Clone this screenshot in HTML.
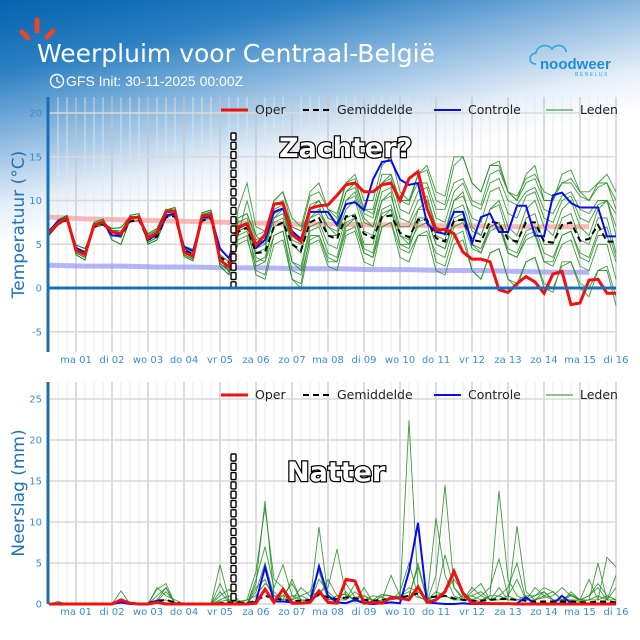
<!DOCTYPE html>
<html><head><meta charset="utf-8">
<style>
html,body{margin:0;padding:0;background:#fff;}
#wrap{position:relative;width:640px;height:640px;overflow:hidden;font-family:"DejaVu Sans","Liberation Sans",sans-serif;}
#bg{position:absolute;left:0;top:0;width:640px;height:260px;background:linear-gradient(168deg,#0563ad 0%,#2a7fc2 18%,#8fbbe0 36%,#e4eef8 52%,#ffffff 62%);}
svg{position:absolute;left:0;top:0;}
</style></head>
<body>
<div id="wrap">
<div id="bg"></div>
<svg id="chart" width="640" height="640" viewBox="0 0 640 640">
  <g>
    <line x1="22" y1="32" x2="28" y2="38" stroke="#e8452c" stroke-width="5" stroke-linecap="round"/>
    <line x1="37" y1="20" x2="37" y2="31" stroke="#e8452c" stroke-width="5" stroke-linecap="round"/>
    <line x1="53" y1="31" x2="47" y2="37" stroke="#e8452c" stroke-width="5" stroke-linecap="round"/>
  </g>
  <text x="37" y="62" fill="#fff" font-size="25" font-family="DejaVu Sans, Liberation Sans, sans-serif">Weerpluim voor  Centraal-België</text>
  <g>
    <circle cx="57" cy="81" r="6.5" fill="none" stroke="#fff" stroke-width="1.4"/>
    <polyline points="57,77 57,81 60,83" fill="none" stroke="#fff" stroke-width="1.3"/>
  </g>
  <text x="66" y="86" fill="#fff" font-size="14" font-family="Liberation Sans, sans-serif">GFS Init: 30-11-2025 00:00Z</text>
  <g>
    <path d="M536,64 C528,64 528,54 536,53 C537,45 548,43 552,49 C556,43 566,45 566,52" fill="none" stroke="#29a9e0" stroke-width="1.6"/>
    <text x="540" y="69" fill="#1e8fd6" font-size="15" font-family="Liberation Sans, sans-serif" font-weight="bold">noodweer</text>
    <text x="575" y="76" fill="#29a9e0" font-size="5" letter-spacing="1.5" font-family="Liberation Sans, sans-serif">BENELUX</text>
  </g>
  <g id="gTop"></g>
  <g id="gBot"></g>
</svg>
</div>
<script>
// ---------------- DATA ----------------
const dayLabels = ['ma 01','di 02','wo 03','do 04','vr 05','za 06','zo 07','ma 08','di 09','wo 10','do 11','vr 12','za 13','zo 14','ma 15','di 16'];
const tempTicks = [-5,0,5,10,15,20];
const precTicks = [0,5,10,15,20,25];
const startHour = 6; const stepHours = 6;
const tempOper = [6.3,7.4,8.0,4.3,3.8,7.2,7.5,6.4,6.2,8.0,8.1,5.7,6.3,8.7,8.8,4.1,3.6,8.2,8.4,3.2,2.4,
 7.0,7.3,4.9,6.1,9.6,9.7,6.1,5.3,9.1,9.4,9.5,10.6,11.8,12.0,11.0,11.0,11.8,12.0,10.0,12.5,13.3,9.1,
 6.6,6.7,6.2,4.1,3.3,3.3,3.0,-0.2,-0.5,0.5,1.3,0.7,-0.6,1.6,1.9,-1.9,-1.7,0.9,1.0,-0.6,-0.6];
const tempControl = [6.5,7.6,8.0,4.6,4.0,7.2,7.5,6.0,6.0,7.9,8.1,5.5,6.1,8.3,8.5,4.7,4.2,8.0,8.2,4.5,3.4,
 6.8,7.3,4.6,5.5,8.7,9.1,6.5,5.6,8.7,8.7,8.7,7.2,9.6,9.8,8.9,12.4,14.4,14.6,12.4,11.8,12.0,7.4,
 6.4,6.2,8.7,8.7,5.1,8.1,8.5,6.4,6.4,9.4,9.4,6.0,5.9,10.6,10.9,9.7,9.2,9.2,9.2,5.9,5.9];
const tempMean = [6.2,7.3,7.8,4.3,3.9,7.0,7.3,6.2,6.0,7.6,7.8,5.5,5.9,8.1,8.2,4.3,3.9,7.7,7.9,3.5,2.9,
 6.4,6.9,4.0,4.1,7.0,7.5,5.0,4.3,7.5,8.0,6.0,5.6,8.2,8.2,6.2,5.7,8.1,8.3,6.3,5.8,7.8,7.8,
 5.7,5.3,7.7,7.8,5.5,5.3,7.6,7.4,5.6,5.3,7.5,7.5,5.3,5.2,7.2,7.5,5.4,5.6,7.2,5.3,5.3];
const tempClimHigh = [8.1,7.9,7.8,7.7,7.6,7.5,7.4,7.3,7.3,7.2,7.2,7.1,7.1,7.0,7.0,7.0];
const tempClimLow = [2.6,2.5,2.5,2.4,2.4,2.3,2.3,2.2,2.2,2.1,2.1,2.0,2.0,1.9,1.8,1.8];
const earlyA = [6.5,7.8,8.3,4.0,3.5,7.5,7.9,6.0,5.8,8.3,8.5,5.2,5.8,8.9,9.2,4.5,3.9,8.6,8.9,3.8,3.0];
const earlyB = [6.0,7.2,7.8,4.6,4.2,6.9,7.2,6.6,6.5,7.6,7.7,6.0,6.6,8.3,8.4,3.8,3.3,7.8,8.0,2.8,2.0];
const earlyC = [6.2,7.6,8.2,3.8,3.2,7.3,7.7,5.5,5.0,7.8,8.3,5.0,5.5,8.0,8.5,4.8,4.4,8.0,8.2,3.5,1.8];
const earlyD = [6.4,7.3,7.9,4.9,4.5,7.0,7.4,6.8,6.9,8.2,8.0,6.2,6.8,9.0,8.9,3.6,3.1,8.4,8.7,2.5,1.5];
const tempM1 = [...earlyA,8,8.5,5.5,6,10,11,7,6.5,10.5,11,9,8.5,12,12.5,9,9,13,13,10,10,12,12,9,9,12,12.5,10,9.5,13,13.5,11,10,12,12.5,10,10,13,13.5,11,11,12,12,9];
const tempM2 = [...earlyB,6,6.5,3,3.5,7,7.5,3,2.5,7,7.5,5,4.5,8,8.5,5,5,9,9.5,6,5.5,8,8,5,4.5,8,8.5,5,4,7,7.5,4,3.5,6,6.5,3,3,6,6.5,3.5,3,6,6,3];
const tempM3 = [...earlyC,7,7.5,2,1.5,6,6.5,1,0.5,6,6,3,3,7,8,4,3.5,8,9,5,5,7,7.5,3,2.5,6,6.5,2,1,4,4.5,1,0,3,3.5,0,-0.5,3,3,0,-1,2,2,-2];
const tempM4 = [...earlyD,9,12,7,6.5,10,11,8,7,11,12,9,8,12,13,10,10,14,15,11,10,13,13.5,10,9.5,14,15,12,11,14,14.5,11,10,13,14,10,10,12,12.5,11,10,12,13,11];
const tempM5 = [...earlyA,6.5,7,4,4.5,8,8.5,5,4,9,9.5,6,6,9,10,6.5,6,10,10.5,7,7,9,9,6,5.5,9,9.5,6.5,6,9,9.5,6,5,8,8.5,5,5,8,8.5,5.5,5,8,8,4];
const tempM6 = [...earlyB,5,5.5,2.5,3,6,6.5,2,1.5,5.5,6,3.5,3,6.5,7,4,3.5,7,7.5,4.5,4,6,6.5,4,3.5,7,7.5,4.5,4,6.5,7,4,3.5,5.5,6,3,2.5,5,5.5,2.5,2,5,5,1];
const tempM7 = [...earlyC,7.5,8,5,5.5,9,9.5,6,5.5,8,8.5,7,6.5,10,10.5,7.5,7,11,11.5,8,7.5,10,10.5,7,6.5,10,10.5,8,7.5,11,11.5,8.5,8,10.5,11,8,7.5,10,10.5,8,7.5,9.5,10,7];
const tempM8 = [...earlyD,6,10,6,5,8,9,5,4,8,9,7,6,10,11,8,7,10,11,6,5,9,10,7,6,10,11,7,6,9,10,7,6,9,10,7,6,9,10,7,6,9,10,6];
const tempM9 = [...earlyA,7,7.5,3.5,3,7.5,8,3,2,6.5,7,4,3.5,7.5,8,4.5,4,8.5,9,5,4.5,7.5,8,5,4.5,7.5,8,5,4.5,7,7.5,4.5,4,6.5,7,4,3.5,6,6.5,4,3.5,6.5,7,3.5];
const tempM10 = [...earlyB,8,8.5,6,6.5,9.5,10,7,6.5,9,10,8,7.5,11,11.5,8.5,8,12,12.5,9,8.5,11,11.5,8,7.5,11,12,9.5,9,12,12.5,10,9.5,11,11.5,9,8.5,10.5,11,9,8.5,10,10,8.5];
const tempM11 = [...earlyC,6.5,7,4.5,5,8.5,9,5.5,5,9.5,10,8,7.5,11,12,9,8.5,12,13,10,9.5,13,14,11,10.5,15,15,12,11,14,14,11,10.5,12.5,13,11,10.5,12,12,10.5,10,11.5,12,10];
const tempM12 = [...earlyD,5.5,6,1.5,1,5,5.5,1,0,5,5.5,2.5,2,6,6.5,3,2.5,7,7.5,3.5,3,6,6,2,1.5,5,5.5,2,1,4,4.5,1,0.5,3,3.5,0.5,0,2.5,3,0.5,0,2,2.5,-1];
const tempMembers = [tempM1,tempM2,tempM3,tempM4,tempM5,tempM6,tempM7,tempM8,tempM9,tempM10,tempM11,tempM12];

const precOper = [0,0,0,0,0,0,0,0,0.5,0.1,0,0,0.2,0,0,0,0,0,0,0,0,0,0,0.1,1.8,0.2,1.8,0.1,0.1,0.2,1.6,0.2,0.1,3.0,2.8,0.1,0.2,0.1,0.8,0.7,0.5,2.1,0.2,0.5,1.5,4.0,1.3,0.1,0.1,0.05,0.05,0.05,0,0,0,0,0,0,0,0,0,0,0,0];
const precControl = [0,0.1,0,0,0,0,0,0,0.2,0,0,0,0.4,0,0,0,0,0,0,0,0,0,0,0.3,4.5,0.3,0.3,0.2,0.1,0.2,4.6,1.0,0.2,0.1,0.5,0.1,0,0.1,0.2,0.1,4.0,9.9,0.2,0.1,0,0,0.1,0,0,0,0,0,0.1,0.8,0,0,0,1.0,0.1,0,0,0,0,0];
const precMean = [0,0.1,0,0,0,0,0,0,0.3,0.1,0,0.1,0.4,0.5,0.2,0,0,0,0,0.1,0.2,0.2,0.1,0.4,1.0,0.7,0.5,0.4,0.4,0.5,1.2,0.8,0.6,0.8,0.7,0.5,0.4,0.5,0.6,0.8,1.0,1.3,0.8,0.9,1.0,0.7,0.5,0.4,0.4,0.5,0.6,0.6,0.5,0.4,0.3,0.3,0.3,0.3,0.3,0.2,0.2,0.3,0.3,0.2];
const precM1 = [0,0.3,0,0,0,0,0,0,1.6,0,0,0,1.8,2.5,0,0,0,0,0,4.8,0.5,0.2,0,2.5,12.6,1.0,0.5,3.0,0.5,0.3,9.4,1.0,0.5,1.5,0.2,2.0,0.2,0.5,3.5,1.0,0.8,5.0,0.5,1.0,1.5,3.0,1.5,0.5,0.3,1.0,13.8,3.0,1.0,0.5,1.0,2.0,1.5,0.5,1.0,0.5,0.5,5.0,0.5,2.0];
const precM2 = [0,0,0,0,0,0,0,0,0.5,0,0,0,2.0,1.0,0.5,0,0,0,0,2.5,0.3,0,0.5,4.0,11.8,3.0,2.0,0.5,1.0,0.5,1.5,2.0,6.7,1.0,0.5,0.3,0.2,1.0,1.0,0.8,22.4,2.0,0.5,10.5,3.5,1.0,0.5,1.5,2.5,0.5,2.0,0.5,9.5,1.5,0.5,1.0,1.5,0.5,1.2,0.5,3.0,0.5,5.7,4.5];
const precM3 = [0,0,0,0,0,0,0,0,0.3,0,0,0,1.0,2.0,0,0,0,0,0,1.0,1.8,0.5,0,3.0,7.0,2.0,4.8,1.0,0.5,0.3,3.0,1.5,0.5,0.5,2.5,0.5,0,0.5,0.5,1.5,5.0,1.0,0.3,3.5,14.5,2.0,0.5,0.5,1.0,2.0,5.5,1.0,3.0,0.5,0.5,0.8,1.0,2.0,1.0,0.5,1.0,2.5,1.0,0.5];
const precM4 = [0,0,0,0,0,0,0,0,0.2,0,0,0,0.5,0.5,0,0,0,0,0,0.3,0.5,0.3,0,1.5,5.0,1.0,1.0,2.5,0.5,0.5,1.0,3.0,1.0,1.2,0.5,1.0,0.3,0.3,0.8,1.0,2.0,1.5,0.5,1.0,6.0,2.0,0.8,1.0,0.5,1.0,1.0,2.0,5.0,0.5,0.5,1.5,0.5,0.5,0.5,0.3,0.5,1.0,0.5,0.5];
const precM5 = [0,0,0,0,0,0,0,0,0.1,0,0,0,0.3,1.5,0.2,0,0,0,0,1.5,0.2,0,0,2.0,3.0,0.5,1.0,0.5,2.0,1.0,1.5,0.5,0.5,2.5,0.8,1.0,0.5,1.2,1.0,0.5,1.0,4.5,0.5,0.5,1.0,0.5,0.5,2.0,1.0,0.5,1.0,0.5,0.5,0.5,2.0,1.0,0.5,0.3,1.5,0.5,0.5,0.5,1.0,0.5];
const precM6 = [0,0,0,0,0,0,0,0,0.3,0,0,0,0.5,2.0,0,0,0,0,0,0.5,1.0,0.3,0.5,1.0,2.5,1.5,0.5,1.0,1.0,1.5,4.0,0.5,1.0,0.5,1.5,0.5,1.0,0.8,0.5,1.0,1.5,0.8,0.5,1.5,1.0,0.5,1.0,1.0,1.5,0.5,0.5,1.0,0.5,1.0,1.0,1.5,0.5,0.5,0.5,0.5,1.0,2.0,0.5,3.5];
const precMembers = [precM1,precM2,precM3,precM4,precM5,precM6];

// ---------------- SCALES ----------------
const NS='http://www.w3.org/2000/svg';
const X0=40, PXH=1.5, PL=48, PR=616;
function xH(h){return X0+PXH*h;}
function xI(i){return xH(startHour+stepHours*i);}
const T={top:97,bottom:352,zero:288,k:8.75};
const P={top:382,bottom:604,zero:604,k:8.2};
function yT(v){return T.zero-T.k*v;}
function yP(v){return P.zero-P.k*v;}
function mk(tag,attrs,parent){const e=document.createElementNS(NS,tag);for(const k in attrs)e.setAttribute(k,attrs[k]);parent.appendChild(e);return e;}
function pathFrom(arr,yf){return arr.map((v,i)=>(i?'L':'M')+xI(i).toFixed(1)+','+yf(v).toFixed(1)).join(' ');}

function drawPanel(g,S,yf,ticks,title,members,mean,control,oper,clims,marker,bigText,bigX,bigY){
  // minor vertical grid
  for(let h=6;h<=384;h+=6){
    const l=mk('line',{x1:xH(h),x2:xH(h),y1:S.top,y2:S.bottom,stroke:(h%24===0)?'#c4c4c4':'#e6e6e6','stroke-width':(h%24===0)?1.2:0.8},g);
    
    
  }
  ticks.forEach(t=>{
    const y=yf(t);
    const l=mk('line',{x1:PL,x2:PR,y1:y,y2:y,stroke:'#d9d9d9','stroke-width':1.5},g);
    
    
    const tx=mk('text',{x:PL-6,y:y+3.5,'text-anchor':'end','font-size':10,fill:'#3d8bcd'},g);
    tx.textContent=t;
    
    
  });
  dayLabels.forEach((d,i)=>{
    const tx=mk('text',{x:xH(24*(i+1)),y:S.bottom+11,'text-anchor':'middle','font-size':10,fill:'#3d8bcd'},g);
    tx.textContent=d;
    
    
  });
  const yt=mk('text',{x:0,y:0,transform:`translate(24,${(S.top+S.bottom)/2}) rotate(-90)`,'text-anchor':'middle','font-size':17,fill:'#1f72b8'},g);
  yt.textContent=title;
  
  
  if(clims){
    clims.forEach((c,ci)=>{
      const pts=c.map((v,i)=>(i?'L':'M')+xH(24*i+6).toFixed(1)+','+yf(v).toFixed(1)).join(' ');
      const p=mk('path',{d:pts,fill:'none',stroke:ci?'#9b9bf5':'#f5a0a0','stroke-width':5,opacity:0.75},g);
      
      
    });
  }
  members.forEach(m=>{
    const p=mk('path',{d:pathFrom(m,yf),fill:'none',stroke:'#1f8a1f','stroke-width':0.9,opacity:0.85},g);
    
    
  });
  const pm=mk('path',{d:pathFrom(mean,yf),fill:'none',stroke:'#000','stroke-width':2,'stroke-dasharray':'6,4'},g);
  
  
  const pc=mk('path',{d:pathFrom(control,yf),fill:'none',stroke:'#0a0af0','stroke-width':2},g);
  
  
  const po=mk('path',{d:pathFrom(oper,yf),fill:'none',stroke:'#f01010','stroke-width':3},g);
  
  
  // left spine
  const sp=mk('line',{x1:PL,x2:PL,y1:S.top,y2:S.bottom,stroke:'#1a6fb5','stroke-width':3},g);
  
  
  // marker column
  const mg=mk('g',{},g);
  
  
  for(let y=marker[0];y<marker[1];y+=9.3){
    mk('rect',{x:231,y:y,width:5,height:7,fill:'#fff',stroke:'#000','stroke-width':1.4,rx:1},mg);
  }
  const bt=mk('text',{x:bigX,y:bigY,'font-size':27,'font-weight':'bold',fill:'#fff',stroke:'#000','stroke-width':2.5,'paint-order':'stroke','font-family':'DejaVu Sans, Liberation Sans, sans-serif'},g);
  bt.textContent=bigText;
  
  
  // legend
  const ly=S.top+17;
  const lg=mk('g',{},g);
  
  
  const items=[['Oper',221,'#f01010',3,null],['Gemiddelde',303,'#000',2,'6,4'],['Controle',434,'#0a0af0',2,null],['Leden',546,'#1f8a1f',1,null]];
  items.forEach(it=>{
    const le=mk('g',{},lg);
    
    
    const a={x1:it[1],x2:it[1]+27,y1:ly-4,y2:ly-4,stroke:it[2],'stroke-width':it[3]};
    if(it[4])a['stroke-dasharray']=it[4];
    mk('line',a,le);
    const t=mk('text',{x:it[1]+34,y:ly,'font-size':12.5,fill:'#222'},le);
    t.textContent=it[0];
  });
}

const gTop=document.getElementById('gTop');
const gBot=document.getElementById('gBot');
drawPanel(gTop,T,yT,tempTicks,'Temperatuur (°C)',tempMembers,tempMean,tempControl,tempOper,[tempClimHigh,tempClimLow],[133,282],'Zachter?',279,157);
const zl=mk('line',{x1:PL,x2:PR,y1:yT(0),y2:yT(0),stroke:'#1a6fb5','stroke-width':3},gTop);


drawPanel(gBot,P,yP,precTicks,'Neerslag (mm)',precMembers,precMean,precControl,precOper,null,[454,598],'Natter',287,481);
</script>
</body></html>
